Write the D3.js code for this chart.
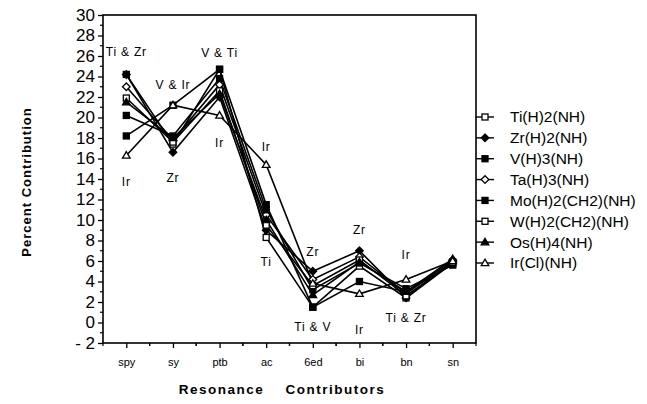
<!DOCTYPE html>
<html>
<head>
<meta charset="utf-8">
<style>
body{ margin:0; background:white; }
text{ font-family: "Liberation Sans", Arial, sans-serif; fill:black; }
</style>
<script src="https://d3js.org/d3.v7.min.js"></script>
</head>
<body>
<script>
var categories = ["spy", "sy", "ptb", "ac", "6ed", "bi", "bn", "sn"]
var seriesNames = ["Ti(H)2(NH)", "Zr(H)2(NH)", "V(H)3(NH)", "Ta(H)3(NH)",
                   "Mo(H)2(CH2)(NH)", "W(H)2(CH2)(NH)", "Os(H)4(NH)", "Ir(Cl)(NH)"]
var markers = ["openSquare", "filledDiamond", "filledSquare", "openDiamond",
               "filledSquare", "openSquare", "filledTriangle", "openTriangle"]

var ti = [24.2, 17.4, 24.7, 8.3, 1.5, 5.5, 2.4, 5.8]
var zr = [24.2, 16.6, 22.0, 9.0, 5.0, 7.0, 2.4, 6.0]
var v  = [18.2, 21.2, 24.7, 11.5, 1.5, 4.0, 3.0, 5.7]
var ta = [23.0, 17.8, 23.2, 10.5, 4.2, 6.4, 2.8, 6.1]
var mo = [20.2, 18.2, 23.8, 11.0, 3.2, 5.8, 3.3, 5.6]
var w  = [21.9, 17.6, 22.6, 9.5, 3.6, 6.1, 2.6, 5.9]
var os = [21.5, 18.0, 22.3, 10.0, 2.7, 5.9, 3.0, 6.2]
var ir = [16.3, 21.2, 20.2, 15.4, 3.8, 2.8, 4.2, 6.0]
var series = [ti, zr, v, ta, mo, w, os, ir]

var yTicks = [-2, 0, 2, 4, 6, 8, 10, 12, 14, 16, 18, 20, 22, 24, 26, 28, 30]

// annotation labels: category, value, text
var notes = [
  ["spy", 26.4, "Ti & Zr"], ["spy", 13.7, "Ir"],
  ["sy", 23.2, "V & Ir"], ["sy", 14.1, "Zr"],
  ["ptb", 26.3, "V & Ti"], ["ptb", 17.5, "Ir"],
  ["ac", 17.1, "Ir"], ["ac", 5.9, "Ti"],
  ["6ed", 6.9, "Zr"], ["6ed", -0.4, "Ti & V"],
  ["bi", 9.0, "Zr"], ["bi", -0.7, "Ir"],
  ["bn", 6.6, "Ir"], ["bn", 0.5, "Ti & Zr"]
]

var W = 647, H = 404
var pLeft = 103, pRight = 476, pTop = 15, pBottom = 343

var svg = d3.select("body").append("svg")
            .attr("width", W)
            .attr("height", H)

var x = d3.scalePoint().domain(categories).range([pLeft, pRight]).padding(0.5)
var y = d3.scaleLinear().domain([-2, 30]).range([pBottom, pTop])

// frame
svg.append("rect")
   .attr("x", pLeft).attr("y", pTop)
   .attr("width", pRight - pLeft).attr("height", pBottom - pTop)
   .attr("fill", "none").attr("stroke", "black").attr("stroke-width", 1.6)

// y axis
var yAxis = d3.axisLeft(y).tickValues(yTicks).tickSize(5).tickPadding(3)
              .tickFormat(function(d){ return d < 0 ? "- " + Math.abs(d) : String(d) })
var gy = svg.append("g").attr("transform", "translate(" + pLeft + ",0)").call(yAxis)
gy.select(".domain").remove()
gy.selectAll("text").attr("font-size", 17).attr("font-family", "Liberation Sans, Arial, sans-serif")
gy.selectAll(".tick line").attr("stroke-width", 1.3)
svg.append("g").selectAll("line")
   .data(d3.range(-1, 30, 2))
   .enter().append("line")
   .attr("x1", pLeft - 3).attr("x2", pLeft)
   .attr("y1", function(d){ return y(d) }).attr("y2", function(d){ return y(d) })
   .attr("stroke", "black").attr("stroke-width", 1.2)

// x axis
var xAxis = d3.axisBottom(x).tickSize(5).tickPadding(10)
var gx = svg.append("g").attr("transform", "translate(0," + pBottom + ")").call(xAxis)
gx.select(".domain").remove()
gx.selectAll("text").attr("font-size", 11).attr("font-family", "Liberation Sans, Arial, sans-serif")
gx.selectAll(".tick line").attr("stroke-width", 1.3)
var step = x.step()
svg.append("g").selectAll("line")
   .data(categories)
   .enter().append("line")
   .attr("x1", function(d){ return x(d) + step / 2 }).attr("x2", function(d){ return x(d) + step / 2 })
   .attr("y1", pBottom).attr("y2", pBottom + 3)
   .attr("stroke", "black").attr("stroke-width", 1.2)
svg.append("g").selectAll("line")
   .data(categories)
   .enter().append("line")
   .attr("x1", function(d){ return x(d) - step / 2 }).attr("x2", function(d){ return x(d) - step / 2 })
   .attr("y1", pBottom).attr("y2", pBottom + 3)
   .attr("stroke", "black").attr("stroke-width", 1.2)

// axis titles
svg.append("text")
   .attr("transform", "translate(31," + 182 + ") rotate(-90)")
   .attr("text-anchor", "middle")
   .attr("font-size", 13).attr("font-weight", "bold")
   .attr("letter-spacing", 1)
   .text("Percent Contribution")
svg.append("text")
   .attr("x", 282).attr("y", 394)
   .attr("text-anchor", "middle")
   .attr("font-size", 13.5).attr("font-weight", "bold")
   .attr("letter-spacing", 1.5)
   .attr("word-spacing", 16)
   .text("Resonance Contributors")

// marker drawing
function drawMarker(g, type, cx, cy) {
    var s = 3
    if (type == "openSquare" || type == "filledSquare") {
        g.append("rect")
         .attr("x", cx - s).attr("y", cy - s)
         .attr("width", 2 * s).attr("height", 2 * s)
         .attr("fill", type == "openSquare" ? "white" : "black")
         .attr("stroke", "black").attr("stroke-width", 1.3)
    } else if (type == "openDiamond" || type == "filledDiamond") {
        var r = 3.8
        g.append("path")
         .attr("d", "M" + cx + "," + (cy - r) + "L" + (cx + r) + "," + cy + "L" + cx + "," + (cy + r) + "L" + (cx - r) + "," + cy + "Z")
         .attr("fill", type == "openDiamond" ? "white" : "black")
         .attr("stroke", "black").attr("stroke-width", 1.3)
    } else {
        var t = 3.8
        g.append("path")
         .attr("d", "M" + cx + "," + (cy - t) + "L" + (cx + t) + "," + (cy + t * 0.7) + "L" + (cx - t) + "," + (cy + t * 0.7) + "Z")
         .attr("fill", type == "openTriangle" ? "white" : "black")
         .attr("stroke", "black").attr("stroke-width", 1.3)
    }
}

var line = d3.line()
             .x(function(d, i){ return x(categories[i]) })
             .y(function(d){ return y(d) })

series.forEach(function(vals, k){
    svg.append("path")
       .attr("d", line(vals))
       .attr("fill", "none")
       .attr("stroke", "black")
       .attr("stroke-width", 1.6)
})
series.forEach(function(vals, k){
    var g = svg.append("g")
    vals.forEach(function(d, i){
        drawMarker(g, markers[k], x(categories[i]), y(d))
    })
})

// annotations
svg.selectAll(".note")
   .data(notes)
   .enter().append("text")
   .attr("class", "note")
   .attr("x", function(d){ return x(d[0]) })
   .attr("y", function(d){ return y(d[1]) })
   .attr("dy", "0.35em")
   .attr("text-anchor", "middle")
   .attr("font-size", 12)
   .attr("letter-spacing", 0.8)
   .text(function(d){ return d[2] })

// legend
var legY = d3.scalePoint().domain(seriesNames).range([117, 263])
seriesNames.forEach(function(name, k){
    var ly = legY(name)
    svg.append("line")
       .attr("x1", pRight).attr("x2", pRight + 18)
       .attr("y1", ly).attr("y2", ly)
       .attr("stroke", "black").attr("stroke-width", 1.4)
    drawMarker(svg.append("g"), markers[k], pRight + 9, ly)
    svg.append("text")
       .attr("x", 510).attr("y", ly)
       .attr("dy", "0.35em")
       .attr("font-size", 15.5)
       .text(name)
})
</script>
</body>
</html>
